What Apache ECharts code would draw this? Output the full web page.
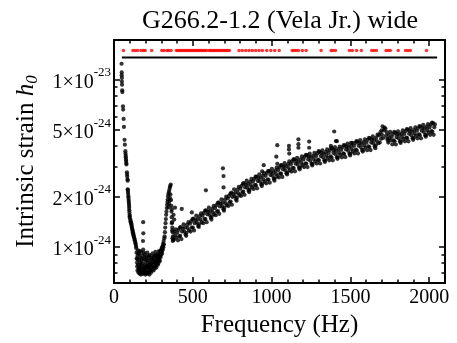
<!DOCTYPE html>
<html><head><meta charset="utf-8">
<script src="https://cdn.jsdelivr.net/npm/echarts@6.0.0/dist/echarts.min.js"></script>
<style>html,body{margin:0;padding:0;background:#fff}#chart{width:457px;height:343px}</style>
</head><body><div id="chart"></div>
<script>
// ---------- text ----------
const titleText = 'G266.2-1.2 (Vela Jr.) wide';
const xAxisName = 'Frequency (Hz)';
const yAxisNameMain = 'Intrinsic strain ';
const yAxisNameSym = 'h';
const yAxisNameSub = '0';

// ---------- axes (h0 values in units of 1e-24) ----------
const xRange = [0, 2100];
const xMajorStep = 500;
const xMinorStep = 100;
const yRange = [0.605, 17.2];
const yMajorTicks = [1, 2, 5, 10];
const yMinorTicks = [0.7, 0.8, 0.9, 3, 4, 6, 7, 8, 9];

// ---------- data: low-frequency part (h0 / 1e-24) ----------
const lowFreq = [48,49,49,50,50,51,52,53,57,58,61,63,67,69,72,73,74,75,76,77,78,79,82,83,84,86,87,87,88,89,90,91,92,93,94,95,96,96,97,98,99,100,100,104,105,107,109,110,112,113,115,117,118,120,121,123,124,126,128,130,132,134,136,138,140,
141,143,144,146,147,149,150,152,153,155,157,158,160,162,163,165,167,168,170,172,174,175,177,179,181,183,185,187,189,191,193,195,197,199,201,203,205,207,209,211,213,215,217,219,221,223,225,227,229,231,233,235,237,239,241,243,245,247,249,251,253,255,257,259,261,263,265,267,269,271,273,275,277,279,281,283,285,287,289,291,293,295,297,299,301,303,305,307,309,311,313,315,317,319,
148,154,159,164,169,173,178,182,186,190,194,198,202,206,210,214,218,222,226,230,234,238,242,246,250,254,258,262,266,270,274,278,282,286,290,294,298,302,306,310,
321,323,325,327,329,331,333,335,337,339,341,343,345,348,351,354,357,360,358,355,350,346,352,362,364,365,366,368,370,372,374,367,369,371,373,376];
const lowH0 = [12.4,11.0,10.6,10.2,9.7,9.3,8.6,8.4,6.9,6.6,5.8,5.2,4.35,4.07,3.72,3.6,3.5,3.42,3.32,3.25,3.16,3.1,2.78,2.7,2.62,2.52,2.48,2.2,2.18,2.12,2.06,2.0,1.95,1.9,1.85,1.8,1.75,1.7,1.65,1.6,1.55,1.52,1.49,1.45,1.42,1.4,1.38,1.36,1.33,1.31,1.28,1.26,1.24,1.22,1.2,1.18,1.16,1.15,1.13,1.11,1.09,1.07,1.05,1.03,1.0,
0.98,0.92,0.85,0.80,0.76,0.72,0.88,0.95,0.78,0.70,0.74,0.83,0.90,0.69,0.76,0.86,0.72,0.80,0.68,0.93,0.75,0.82,0.70,0.88,0.73,0.79,0.96,0.69,0.84,0.74,0.71,0.90,0.78,0.68,0.82,0.73,0.87,0.70,0.77,0.92,0.69,0.80,0.74,0.85,0.71,0.78,0.68,0.89,0.75,0.72,0.83,0.70,0.79,0.86,0.73,0.77,0.91,0.74,0.81,0.72,0.84,0.76,0.88,0.74,0.80,0.93,0.77,0.83,0.75,0.87,0.79,0.82,0.90,0.78,0.85,0.80,0.94,0.83,0.88,0.82,0.91,0.86,0.95,0.89,0.93,0.98,0.91,1.00,0.96,1.04,0.99,1.08,1.03,1.12,
0.84,0.91,0.73,0.94,0.78,0.71,0.85,0.69,0.76,0.92,0.72,0.86,0.75,0.69,0.83,0.76,0.70,0.88,0.74,0.80,0.76,0.72,0.84,0.78,0.87,0.75,0.81,0.76,0.89,0.80,0.86,0.84,0.89,0.87,0.92,0.89,0.93,0.96,0.95,1.00,
1.15,1.22,1.30,1.38,1.46,1.55,1.62,1.70,1.78,1.85,1.92,2.00,2.06,2.12,2.18,2.25,2.30,2.35,2.05,1.95,1.80,1.72,1.88,1.90,1.75,1.62,1.50,1.40,1.30,1.22,1.15,1.38,1.25,1.12,1.08,1.10];

// ---------- data: main band 380-2040 Hz (h0 / 1e-24) ----------
const bandFreq = [380,384,388,392,396,402,406,410,414,418,420,424,428,432,436,442,446,450,454,458,
460,464,468,472,476,482,486,490,494,498,500,504,508,512,516,522,526,530,534,538,
540,544,548,552,556,562,566,570,574,578,580,584,588,592,596,602,606,610,614,618,
620,624,628,632,636,642,646,650,654,658,660,664,668,672,676,682,686,690,694,698,
700,704,708,712,716,722,726,730,734,738,740,744,748,752,756,762,766,770,774,778,
780,784,788,792,796,802,806,810,814,818,820,824,828,832,836,842,846,850,854,858,
860,864,868,872,876,882,886,890,894,898,900,904,908,912,916,922,926,930,934,938,
940,944,948,952,956,962,966,970,974,978,980,984,988,992,996,1002,1006,1010,1014,1018,
1020,1024,1028,1032,1036,1042,1046,1050,1054,1058,1060,1064,1068,1072,1076,1082,1086,1090,1094,1098,
1100,1104,1108,1112,1116,1122,1126,1130,1134,1138,1140,1144,1148,1152,1156,1162,1166,1170,1174,1178,
1180,1184,1188,1192,1196,1202,1206,1210,1214,1218,1220,1224,1228,1232,1236,1242,1246,1250,1254,1258,
1260,1264,1268,1272,1276,1282,1286,1290,1294,1298,1300,1304,1308,1312,1316,1322,1326,1330,1334,1338,
1340,1344,1348,1352,1356,1362,1366,1370,1374,1378,1380,1384,1388,1392,1396,1402,1406,1410,1414,1418,
1420,1424,1428,1432,1436,1442,1446,1450,1454,1458,1460,1464,1468,1472,1476,1482,1486,1490,1494,1498,
1500,1504,1508,1512,1516,1522,1526,1530,1534,1538,1540,1544,1548,1552,1556,1562,1566,1570,1574,1578,
1580,1584,1588,1592,1596,1602,1606,1610,1614,1618,1620,1624,1628,1632,1636,1642,1646,1650,1654,1658,
1660,1664,1668,1672,1676,1682,1686,1690,1694,1698,1700,1704,1708,1712,1716,1722,1726,1730,1734,1738,
1740,1744,1748,1752,1756,1762,1766,1770,1774,1778,1780,1784,1788,1792,1796,1802,1806,1810,1814,1818,
1820,1824,1828,1832,1836,1842,1846,1850,1854,1858,1860,1864,1868,1872,1876,1882,1886,1890,1894,1898,
1900,1904,1908,1912,1916,1922,1926,1930,1934,1938,1940,1944,1948,1952,1956,1962,1966,1970,1974,1978,
1980,1984,1988,1992,1996,2002,2006,2010,2014,2018,2020,2024,2028,2032,2036];
const bandH0 = [1.10,1.23,1.17,1.27,1.13,1.21,1.09,1.26,1.15,1.30,1.16,1.31,1.11,1.23,1.28,1.36,1.23,1.30,1.18,1.16,
1.21,1.35,1.29,1.40,1.25,1.37,1.23,1.42,1.30,1.46,1.30,1.47,1.25,1.38,1.44,1.53,1.39,1.46,1.33,1.31,
1.36,1.52,1.45,1.58,1.40,1.53,1.38,1.59,1.46,1.64,1.46,1.65,1.40,1.56,1.62,1.71,1.55,1.63,1.49,1.45,
1.51,1.68,1.60,1.75,1.56,1.70,1.54,1.77,1.62,1.82,1.63,1.84,1.57,1.74,1.81,1.92,1.74,1.83,1.67,1.64,
1.71,1.91,1.82,1.99,1.77,1.94,1.75,2.01,1.84,2.07,1.86,2.10,1.78,1.98,2.06,2.20,2.00,2.10,1.92,1.88,
1.96,2.19,2.09,2.28,2.03,2.22,2.01,2.31,2.11,2.38,2.13,2.40,2.04,2.26,2.35,2.48,2.25,2.37,2.16,2.12,
2.19,2.44,2.33,2.54,2.26,2.45,2.21,2.54,2.33,2.62,2.33,2.62,2.23,2.47,2.57,2.70,2.45,2.58,2.35,2.30,
2.37,2.65,2.52,2.75,2.45,2.65,2.39,2.76,2.52,2.83,2.52,2.84,2.41,2.68,2.78,2.92,2.65,2.78,2.54,2.48,
2.56,2.86,2.72,2.97,2.64,2.87,2.59,2.98,2.73,3.06,2.73,3.07,2.61,2.90,3.01,3.16,2.87,3.02,2.75,2.70,
2.78,3.11,2.96,3.23,2.87,3.11,2.81,3.23,2.96,3.32,2.95,3.32,2.82,3.13,3.26,3.40,3.09,3.24,2.96,2.90,
2.98,3.33,3.17,3.46,3.07,3.32,2.99,3.45,3.15,3.54,3.13,3.52,2.99,3.32,3.45,3.60,3.26,3.43,3.13,3.06,
3.13,3.50,3.34,3.64,3.24,3.48,3.14,3.61,3.31,3.72,3.28,3.69,3.14,3.48,3.62,3.77,3.42,3.59,3.28,3.21,
3.28,3.67,3.49,3.81,3.39,3.64,3.28,3.78,3.46,3.89,3.42,3.85,3.28,3.64,3.78,3.93,3.57,3.75,3.42,3.35,
3.42,3.83,3.64,3.97,3.53,3.79,3.42,3.94,3.61,4.05,3.58,4.03,3.43,3.81,3.96,4.13,3.74,3.93,3.59,3.51,
3.60,4.02,3.83,4.18,3.72,4.00,3.61,4.16,3.80,4.27,3.77,4.25,3.61,4.01,4.17,4.34,3.94,4.14,3.78,3.70,
3.78,4.22,4.02,4.38,3.90,4.18,3.77,4.35,3.98,4.47,3.94,4.44,3.78,4.19,4.36,4.56,4.14,4.35,3.97,3.88,
4.02,4.49,4.28,4.67,4.15,4.64,4.19,4.82,4.41,4.96,4.66,5.24,4.46,4.95,5.15,5.08,4.61,4.84,4.42,4.32,
4.19,4.68,4.46,4.86,4.32,4.54,4.09,4.72,4.32,4.85,4.26,4.79,4.08,4.52,4.70,4.89,4.44,4.67,4.26,4.17,
4.26,4.76,4.53,4.95,4.40,4.72,4.26,4.91,4.49,5.05,4.45,5.01,4.26,4.73,4.91,5.11,4.64,4.87,4.45,4.35,
4.45,4.97,4.73,5.16,4.59,4.93,4.44,5.12,4.69,5.26,4.64,5.22,4.44,4.93,5.12,5.34,4.84,5.09,4.64,4.54,
4.65,5.20,4.95,5.40,4.80,5.16,4.66,5.36,4.91,5.52,4.86,5.48,4.66,5.17,5.38];

// ---------- data: isolated outliers above the band (h0 / 1e-24) ----------
const outFreq = [185,186,184,366,387,378,382,430,494,583,691,695,695,940,950,1030,1036,1036,1110,1110,1112,1170,1170,1170,1238,1238,1376,1397,1408,1414,1504];
const outH0 = [1.40,1.20,1.08,1.67,1.71,1.55,1.45,1.68,1.60,2.17,2.94,2.64,2.26,2.82,3.07,3.45,4.04,3.13,4.00,3.81,3.60,4.38,4.10,3.90,4.25,3.90,4.00,4.88,4.28,4.27,4.17];

// ---------- data: vetoed bands (red) and search upper line ----------
const vetoFreq = [60,120,135,150,171,186,198,239,303,318,337,347,362,
396,406,416,426,436,446,456,466,476,486,496,506,516,526,536,546,556,566,576,586,
602,612,622,632,642,652,662,672,682,692,702,712,722,732,
793,814,836,857,878,899,920,941,969,995,1020,1048,
1131,1142,1155,1170,1195,1219,
1314,1378,1390,1405,1494,1512,1539,1569,1635,1650,1665,1726,1740,1753,1803,1850,1865,1880,1983];
const vetoLevel = 14.9;
const lineFreq = [50, 2050];
const lineLevel = 13.5;

// ---------- build ----------
const F = '"Liberation Serif", "Times New Roman", serif';
const pair = (xs, ys) => xs.map((x, i) => [x, ys[i]]);
const blackData = pair(lowFreq, lowH0).concat(pair(bandFreq, bandH0), pair(outFreq, outH0));
const redData = vetoFreq.map(f => [f, vetoLevel]);
const lineData = lineFreq.map(f => [f, lineLevel]);

function yLabel(v) {
  const p = Math.floor(Math.log10(v) + 1e-9);
  const m = Math.round(v / Math.pow(10, p));
  return '{m|' + m + '\u00d710}{e|' + (p - 24) + '}';
}

const axisLine = { show: true, onZero: false, lineStyle: { color: '#000', width: 2 } };
function xAxisDef(pos, major) {
  return {
    type: 'value', position: pos, min: xRange[0], max: xRange[1],
    interval: major ? xMajorStep : xMinorStep,
    axisLine: major ? axisLine : { show: false, onZero: false },
    axisTick: { show: true, inside: true, length: major ? 6 : 3.5, lineStyle: { color: '#000', width: 1.5 } },
    axisLabel: (major && pos === 'bottom') ? { show: true, showMaxLabel: false, formatter: v => String(v), color: '#000', fontFamily: F, fontSize: 20, margin: 5 } : { show: false },
    splitLine: { show: false },
    name: (major && pos === 'bottom') ? xAxisName : '',
    nameLocation: 'middle', nameGap: 16,
    nameTextStyle: { color: '#000', fontFamily: F, fontSize: 25 }
  };
}
function yAxisDef(pos, major) {
  const ticks = major ? yMajorTicks : yMinorTicks;
  return {
    type: 'log', logBase: 10, position: pos, min: yRange[0], max: yRange[1],
    axisLine: major ? axisLine : { show: false, onZero: false },
    axisTick: { show: true, inside: true, length: major ? 6 : 3.5, customValues: ticks, lineStyle: { color: '#000', width: 1.5 } },
    axisLabel: (major && pos === 'left') ? {
      show: true, customValues: yMajorTicks, formatter: yLabel, margin: 3,
      rich: {
        m: { color: '#000', fontFamily: F, fontSize: 20, padding: [6, 0, 0, 0], verticalAlign: 'bottom' },
        e: { color: '#000', fontFamily: F, fontSize: 13, verticalAlign: 'top' }
      }
    } : { show: false },
    minorTick: { show: false },
    splitLine: { show: false },
    name: (major && pos === 'left') ? '{t|' + yAxisNameMain + '}{i|' + yAxisNameSym + '}{s|' + yAxisNameSub + '}' : '',
    nameLocation: 'middle', nameGap: 68,
    nameTextStyle: {
      rich: {
        t: { color: '#000', fontFamily: F, fontSize: 25, padding: [0, 0, 3, 0], verticalAlign: 'bottom' },
        i: { color: '#000', fontFamily: F, fontSize: 25, fontStyle: 'italic', padding: [0, 0, 3, 0], verticalAlign: 'bottom' },
        s: { color: '#000', fontFamily: F, fontSize: 17, fontStyle: 'italic', verticalAlign: 'bottom' }
      }
    }
  };
}

const chart = echarts.init(document.getElementById('chart'), null, { renderer: 'canvas' });
chart.setOption({
  animation: false,
  backgroundColor: '#fff',
  grid: { left: 114, right: 12, top: 40, bottom: 47, containLabel: false },
  graphic: [{
    type: 'text', x: 280, y: 21,
    style: { text: titleText, font: '26px ' + F, fill: '#000', align: 'center', verticalAlign: 'middle' }
  }],
  xAxis: [xAxisDef('bottom', true), xAxisDef('bottom', false), xAxisDef('top', true), xAxisDef('top', false)],
  yAxis: [yAxisDef('left', true), yAxisDef('left', false), yAxisDef('right', true), yAxisDef('right', false)],
  series: [
    { type: 'scatter', xAxisIndex: 0, yAxisIndex: 0, data: blackData, symbolSize: 4.2, itemStyle: { color: '#000' }, silent: true },
    { type: 'scatter', xAxisIndex: 0, yAxisIndex: 0, data: redData, symbolSize: 3.5, itemStyle: { color: '#ff0000' }, silent: true },
    { type: 'line', xAxisIndex: 0, yAxisIndex: 0, data: lineData, showSymbol: false, lineStyle: { color: '#000', width: 2 }, silent: true }
  ]
});
</script>
</body></html>
